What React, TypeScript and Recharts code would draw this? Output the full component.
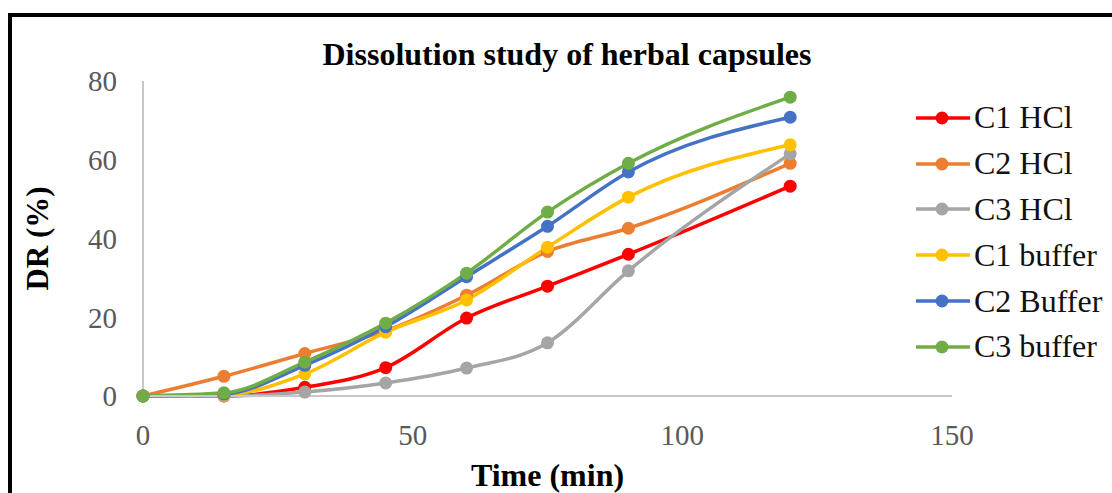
import React from 'react';
import { LineChart, Line, XAxis, YAxis, Legend } from 'recharts';

const times = [0, 15, 30, 45, 60, 75, 90, 120];
const c1Hcl = [0, 0, 2.2, 7.2, 19.8, 27.9, 36.0, 53.3];
const c2Hcl = [0, 5.0, 10.8, 16.6, 25.6, 36.7, 42.6, 59.1];
const c3Hcl = [0, 0, 1.0, 3.3, 7.1, 13.5, 31.8, 61.5];
const c1Buffer = [0, 0.3, 5.6, 16.2, 24.4, 37.8, 50.5, 63.8];
const c2Buffer = [0, 0.5, 7.8, 17.6, 30.3, 43.1, 56.9, 70.8];
const c3Buffer = [0, 0.8, 8.6, 18.5, 31.2, 46.7, 59.1, 75.9];

const xTicks = [0, 50, 100, 150];
const yTicks = [0, 20, 40, 60, 80];

const series = [
  { key: 'c1Hcl', name: 'C1 HCl', color: '#ff0000', values: c1Hcl },
  { key: 'c2Hcl', name: 'C2 HCl', color: '#ed7d31', values: c2Hcl },
  { key: 'c3Hcl', name: 'C3 HCl', color: '#a5a5a5', values: c3Hcl },
  { key: 'c1Buffer', name: 'C1 buffer', color: '#ffc000', values: c1Buffer },
  { key: 'c2Buffer', name: 'C2 Buffer', color: '#4472c4', values: c2Buffer },
  { key: 'c3Buffer', name: 'C3 buffer', color: '#70ad47', values: c3Buffer },
];

const data = times.map((t, i) => {
  const row: Record<string, number> = { time: t };
  series.forEach((s) => {
    row[s.key] = s.values[i];
  });
  return row;
});

const font = '"Liberation Serif", "Times New Roman", serif';

// keep the legend in the same order as the series list
const renderLegend = (props: any) => {
  const payload = [...(props.payload || [])].sort(
    (a: any, b: any) =>
      series.findIndex((s) => s.name === a.value) - series.findIndex((s) => s.name === b.value)
  );
  return (
    <div style={{ fontFamily: font }}>
      {payload.map((entry: any) => (
        <div key={entry.value} style={{ display: 'flex', alignItems: 'center', height: 45.8 }}>
          <svg width={56} height={16} style={{ marginRight: 3 }}>
            <line x1={1} y1={8} x2={55} y2={8} stroke={entry.color} strokeWidth={3.5} />
            <circle cx={27} cy={8} r={6.5} fill={entry.color} />
          </svg>
          <span style={{ fontSize: 32, color: '#111', whiteSpace: 'nowrap' }}>{entry.value}</span>
        </div>
      ))}
    </div>
  );
};

const App: React.FC = () => {
  return (
    <div style={{ position: 'absolute', left: 0, top: 0, width: 1112, height: 493, background: '#fff', overflow: 'hidden' }}>
      <div
        style={{
          position: 'absolute',
          left: 8,
          top: 13,
          width: 1200,
          height: 600,
          borderTop: '4px solid #000',
          borderLeft: '4px solid #000',
        }}
      />
      <div
        style={{
          position: 'absolute',
          left: 0,
          width: 1112,
          top: 36,
          textAlign: 'center',
          paddingLeft: 22,
          boxSizing: 'border-box',
          fontFamily: font,
          fontWeight: 'bold',
          fontSize: 32,
          lineHeight: '36px',
          color: '#000',
        }}
      >
        Dissolution study of herbal capsules
      </div>
      <div style={{ position: 'absolute', left: 0, top: 0 }}>
        <LineChart
          width={1112}
          height={493}
          data={data}
          margin={{ top: 81, right: 160, left: 83, bottom: 67 }}
        >
          <XAxis
            dataKey="time"
            type="number"
            domain={[0, 150]}
            ticks={xTicks}
            tickLine={false}
            axisLine={{ stroke: '#c8c8c8', strokeWidth: 2 }}
            height={30}
            tick={{ fill: '#595959', fontSize: 29, fontFamily: font, dy: 20 }}
            label={{
              value: 'Time (min)',
              position: 'insideBottom',
              offset: -60,
              style: { fill: '#000', fontSize: 32, fontWeight: 'bold', fontFamily: font },
            }}
          />
          <YAxis
            type="number"
            domain={[0, 80]}
            ticks={yTicks}
            tickLine={false}
            axisLine={{ stroke: '#c8c8c8', strokeWidth: 2 }}
            width={60}
            tick={{ fill: '#595959', fontSize: 29, fontFamily: font, dx: -18 }}
            label={{
              value: 'DR (%)',
              angle: -90,
              position: 'insideLeft',
              offset: -46,
              style: { fill: '#000', fontSize: 31, fontWeight: 'bold', fontFamily: font, textAnchor: 'middle' },
            }}
          />
          <Legend
            layout="vertical"
            align="center"
            verticalAlign="middle"
            content={renderLegend}
            wrapperStyle={{ left: 915, top: 95, width: 195 }}
          />
          {series.map((s) => (
            <Line
              key={s.key}
              type="monotone"
              dataKey={s.key}
              name={s.name}
              stroke={s.color}
              strokeWidth={3.5}
              dot={{ r: 6.5, fill: s.color, stroke: s.color, strokeWidth: 0 }}
              activeDot={false}
              isAnimationActive={false}
            />
          ))}
        </LineChart>
      </div>
    </div>
  );
};

export default App;
